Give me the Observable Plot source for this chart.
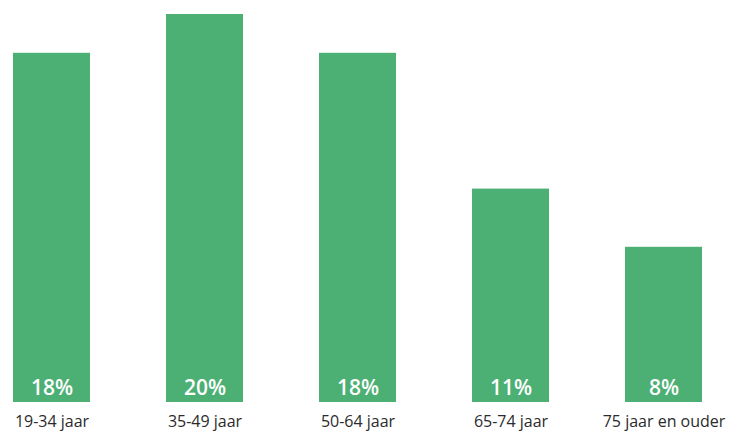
<!DOCTYPE html>
<html>
<head>
<meta charset="utf-8">
<script src="https://cdn.jsdelivr.net/npm/d3@7"></script>
<script src="https://cdn.jsdelivr.net/npm/@observablehq/plot@0.6"></script>
<style>
  html, body { margin: 0; padding: 0; background: #ffffff; }
  #chart { width: 730px; height: 432px; }
</style>
</head>
<body>
<div id="chart"></div>
<script>
const categories = ["19-34 jaar", "35-49 jaar", "50-64 jaar", "65-74 jaar", "75 jaar en ouder"];
const values = [18, 20, 18, 11, 8];
const valueLabels = ["18%", "20%", "18%", "11%", "8%"];

const data = categories.map((c, i) => ({ category: c, value: values[i], label: valueLabels[i] }));

const chart = Plot.plot({
  width: 730,
  height: 432,
  marginLeft: 12,
  marginRight: 27,
  marginTop: 14,
  marginBottom: 30,
  style: { fontFamily: "'Open Sans', sans-serif", background: "#ffffff" },
  x: { domain: categories, padding: 0.5, paddingOuter: 0, label: null },
  y: { domain: [0, 20], axis: null },
  marks: [
    Plot.barY(data, { x: "category", y: "value", fill: "#4caf74" }),
    Plot.text(data, {
      x: "category", y: 0, text: "label", fill: "white",
      fontSize: 21, fontWeight: 600, lineAnchor: "bottom", dy: -8
    }),
    Plot.axisX({ tickSize: 0, tickPadding: 13, fontSize: 16, color: "#2b2b2b", label: null })
  ]
});
document.getElementById("chart").appendChild(chart);
</script>
</body>
</html>
